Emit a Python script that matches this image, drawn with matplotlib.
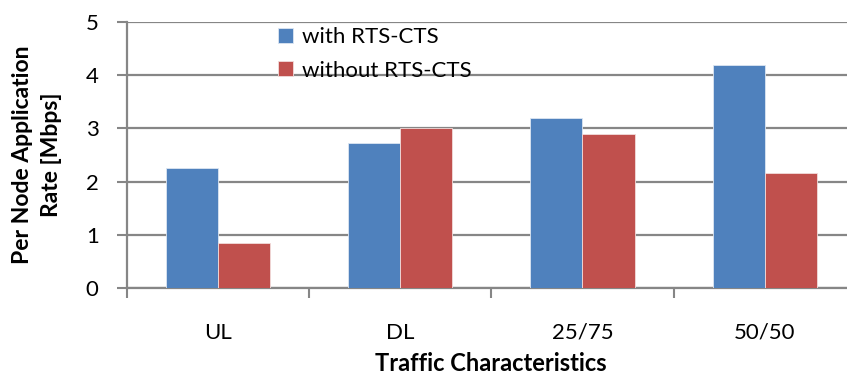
import matplotlib
matplotlib.use("Agg")
import matplotlib.pyplot as plt
import numpy as np

categories = ["UL", "DL", "25/75", "50/50"]
with_rts = [2.25, 2.72, 3.19, 4.2]
without_rts = [0.85, 3.0, 2.9, 2.17]
series_names = ["with RTS-CTS", "without RTS-CTS"]
y_ticks = [0, 1, 2, 3, 4, 5]

plt.rcParams["font.family"] = ["Lato", "DejaVu Sans"]

BLUE = "#4F81BD"
RED = "#C0504D"
GRID = "#868686"

fig = plt.figure(figsize=(8.47, 3.74), dpi=100)
# plot area runs slightly past the right edge of the canvas
ax = fig.add_axes([126.5 / 847, 86 / 374, 729.5 / 847, 266 / 374])

x = np.arange(len(categories))
bw = 0.286
ax.bar(x - bw / 2, with_rts, bw, color=BLUE, edgecolor="#DCE6F2", linewidth=0.6,
       label=series_names[0], zorder=3)
ax.bar(x + bw / 2, without_rts, bw, color=RED, edgecolor="#F2DCDB", linewidth=0.6,
       label=series_names[1], zorder=3)

ax.set_xlim(-0.5, len(categories) - 0.5)
ax.set_ylim(0, 5)
ax.set_yticks(y_ticks)
ax.yaxis.grid(True, color=GRID, linewidth=1.6, zorder=0)
ax.set_axisbelow(True)

# category boundaries carry the tick marks, centres carry the labels
ax.set_xticks(np.arange(len(categories) + 1) - 0.5)
ax.set_xticklabels([])
ax.set_xticks(x, minor=True)
ax.set_xticklabels(categories, minor=True, fontsize=16)
ax.tick_params(axis="x", which="major", length=7, width=1.5, color=GRID, direction="out")
ax.tick_params(axis="x", which="minor", length=0, pad=25)
ax.tick_params(axis="y", length=7, width=1.5, color=GRID, direction="out",
               labelsize=16, pad=13)

for s in ["top", "right"]:
    ax.spines[s].set_visible(False)
for s in ["left", "bottom"]:
    ax.spines[s].set_color(GRID)
    ax.spines[s].set_linewidth(1.6)

ax.set_ylabel("Per Node Application\nRate [Mbps]", fontsize=16.5, fontweight="bold",
              labelpad=17, linespacing=1.5)
ax.set_xlabel("Traffic Characteristics", fontsize=17, fontweight="bold", labelpad=7)

fig.legend(loc="upper left", bbox_to_anchor=(278 / 847, 1 - 27 / 374), frameon=False,
           fontsize=16, handlelength=0.66, handleheight=0.66, handletextpad=0.4,
           labelspacing=0.62, borderpad=0, borderaxespad=0)

fig.savefig("out.png", dpi=100)
